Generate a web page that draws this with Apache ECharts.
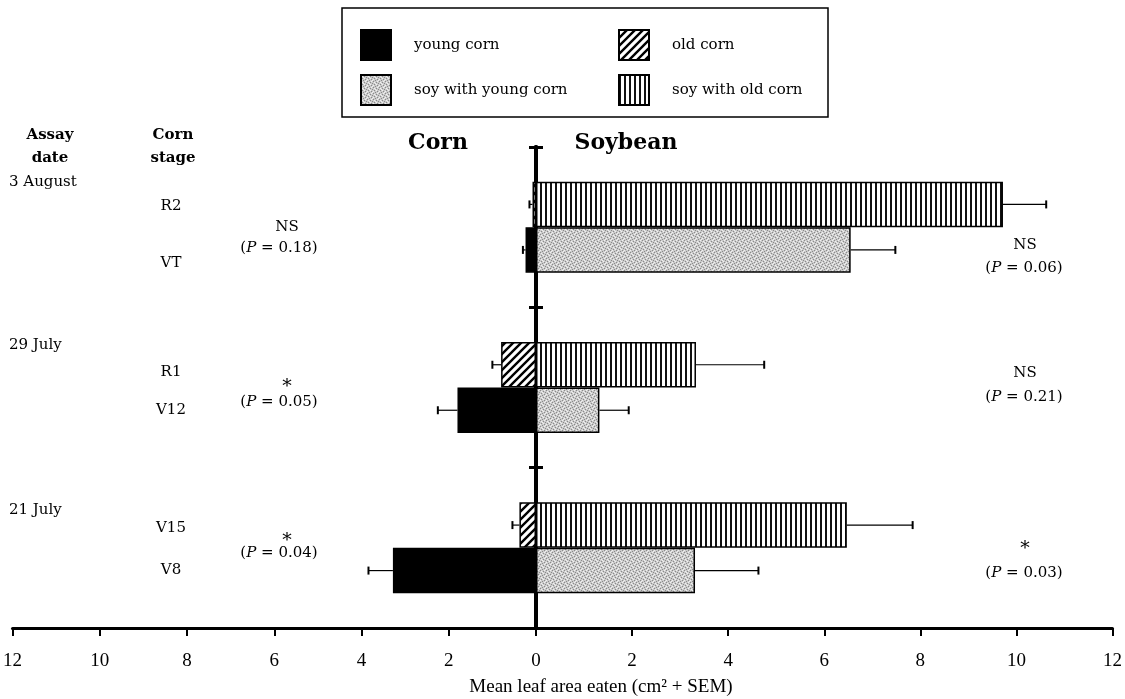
<!DOCTYPE html>
<html><head><meta charset="utf-8">
<script src="https://cdn.jsdelivr.net/npm/echarts@6/dist/echarts.min.js"></script>
<style>html,body{margin:0;padding:0;background:#fff}#c{width:1125px;height:699px}</style>
</head><body><div id="c"></div>
<script>
// ---------- data ----------
const dates = ['3 August', '29 July', '21 July'];
const oldStages = ['R2', 'R1', 'V15'];
const youngStages = ['VT', 'V12', 'V8'];
const youngCorn = [0.24, 1.80, 3.28];
const youngCornErr = [0.06, 0.45, 0.56];
const oldCorn = [0.08, 0.80, 0.38];
const oldCornErr = [0.07, 0.20, 0.16];
const soyYoung = [6.55, 1.32, 3.31];
const soyYoungErr = [0.93, 0.61, 1.32];
const soyOld = [9.72, 3.33, 6.47];
const soyOldErr = [0.90, 1.42, 1.37];
const cornStats = [['NS', '0.18'], ['*', '0.05'], ['*', '0.04']];
const soyStats = [['NS', '0.06'], ['NS', '0.21'], ['*', '0.03']];
const axisTitle = 'Mean leaf area eaten (cm² + SEM)';

// ---------- styles ----------
const SERIF = 'DejaVu Serif';
const TICKFONT = 'Liberation Serif';
const BAR = 45.5;
function pat(w, h, draw) { const c = document.createElement('canvas'); c.width = w; c.height = h; draw(c.getContext('2d'), w, h); return c; }
const hatch = pat(8, 8, g => {
  g.fillStyle = '#fff'; g.fillRect(0, 0, 8, 8);
  g.strokeStyle = '#000'; g.lineWidth = 2.4; g.beginPath();
  g.moveTo(-1, 9); g.lineTo(9, -1); g.moveTo(-1, 1); g.lineTo(1, -1); g.moveTo(7, 9); g.lineTo(9, 7); g.stroke();
});
const stripes = pat(5, 1, g => { g.fillStyle = '#fff'; g.fillRect(0, 0, 5, 1); g.fillStyle = '#111'; g.fillRect(0, 0, 2, 1); });
const stipple = pat(6, 6, g => {
  g.fillStyle = '#cbcbcb'; g.fillRect(0, 0, 6, 6);
  g.fillStyle = '#8a8a8a';
  [[0,0],[3,1],[1,3],[4,4],[5,2],[2,5]].forEach(p => g.fillRect(p[0], p[1], 1, 1));
  g.fillStyle = '#f0f0f0';
  [[1,1],[4,0],[0,4],[3,3],[5,5],[2,2]].forEach(p => g.fillRect(p[0], p[1], 1, 1));
});
const fills = {
  'young corn': '#000',
  'old corn': { image: hatch, repeat: 'repeat' },
  'soy with young corn': { image: stipple, repeat: 'repeat' },
  'soy with old corn': { image: stripes, repeat: 'repeat' }
};

function barSeries(name, vals, gi) {
  return { name, type: 'bar', xAxisIndex: gi, yAxisIndex: gi, data: vals, barWidth: BAR, barGap: '0%',
    itemStyle: { color: fills[name], borderColor: '#000', borderWidth: 1.5 }, silent: true };
}
function errSeries(vals, errs, sign, gi) {
  return { type: 'custom', xAxisIndex: gi, yAxisIndex: gi, silent: true, z: 5,
    data: vals.map((v, i) => [i, v, v + errs[i]]),
    encode: { x: [1, 2], y: 0 },
    renderItem: (params, api) => {
      const cat = api.value(0);
      const p1 = api.coord([api.value(1), cat]);
      const p2 = api.coord([api.value(2), cat]);
      const y = p1[1] + sign * BAR / 2;
      return { type: 'group', children: [
        { type: 'line', shape: { x1: p1[0], y1: y, x2: p2[0], y2: y }, style: { stroke: '#000', lineWidth: 1.2 } },
        { type: 'line', shape: { x1: p2[0], y1: y - 4, x2: p2[0], y2: y + 4 }, style: { stroke: '#000', lineWidth: 2 } }
      ] };
    } };
}

function xAx(gi, inverse) {
  return { gridIndex: gi, type: 'value', inverse, min: 0, max: 12, interval: 2,
    axisLine: { show: true, onZero: false, lineStyle: { color: '#000', width: 3 } },
    axisTick: { show: true, length: 8, lineStyle: { color: '#000', width: 2 } },
    axisLabel: { showMinLabel: !inverse, margin: 24, fontFamily: TICKFONT, fontSize: 19, color: '#000' },
    splitLine: { show: false } };
}
function yAx(gi, pos) {
  return { gridIndex: gi, type: 'category', data: dates, inverse: true, position: pos,
    axisLine: { show: true, onZero: false, lineStyle: { color: '#000', width: 4 } },
    axisTick: { show: true, length: 7, lineStyle: { color: '#000', width: 3 } },
    axisLabel: { show: false }, splitLine: { show: false } };
}

function txt(x, y, text, opts) {
  return { type: 'text', x, y, silent: true, style: Object.assign({ text, fill: '#000', fontFamily: SERIF, fontSize: 15,
    align: 'center', verticalAlign: 'middle', rich: { i: { fontStyle: 'italic', fontFamily: SERIF, fontSize: 15 } } }, opts || {}) };
}
const pText = p => '({i|P} = ' + p + ')';
const markText = (x, y, s) => s === '*' ? txt(x, y + 4, s, { fontSize: 19 }) : txt(x, y, s);

const graphics = [
  { type: 'rect', shape: { x: 342, y: 8, width: 486, height: 109 }, style: { fill: 'none', stroke: '#000', lineWidth: 1.5 }, silent: true },
  txt(438, 143, 'Corn', { fontSize: 22, fontWeight: 'bold' }),
  txt(626, 143, 'Soybean', { fontSize: 22, fontWeight: 'bold' }),
  txt(50, 135, 'Assay', { fontWeight: 'bold' }), txt(50, 158, 'date', { fontWeight: 'bold' }),
  txt(173, 135, 'Corn', { fontWeight: 'bold' }), txt(173, 158, 'stage', { fontWeight: 'bold' }),
  txt(601, 687, axisTitle, { fontFamily: TICKFONT, fontSize: 19 })
];
const dateY = [182, 345, 510], oldY = [206, 372, 528], youngY = [263, 410, 570];
const cStarY = [227, 383, 537], cPY = [248, 402, 553];
const sStarY = [245, 373, 545], sPY = [268, 397, 573];
dates.forEach((d, i) => {
  graphics.push(txt(9, dateY[i], d, { align: 'left' }));
  graphics.push(txt(171, oldY[i], oldStages[i]));
  graphics.push(txt(171, youngY[i], youngStages[i]));
  graphics.push(markText(287, cStarY[i], cornStats[i][0]));
  graphics.push(txt(279, cPY[i], pText(cornStats[i][1])));
  graphics.push(markText(1025, sStarY[i], soyStats[i][0]));
  graphics.push(txt(1024, sPY[i], pText(soyStats[i][1])));
});

const legendCommon = { orient: 'vertical', top: 24, itemWidth: 30, itemHeight: 30, itemGap: 13, icon: 'rect', selectedMode: false,
  textStyle: { fontFamily: SERIF, fontSize: 15, color: '#000', padding: [0, 0, 0, 18] } };

const option = {
  backgroundColor: '#fff',
  animation: false,
  grid: [
    { left: 11, right: 589, top: 147, bottom: 71 },
    { left: 536, right: 8, top: 147, bottom: 71 }
  ],
  xAxis: [xAx(0, true), xAx(1, false)],
  yAxis: [yAx(0, 'right'), yAx(1, 'left')],
  legend: [
    Object.assign({ left: 355, data: ['young corn', 'soy with young corn'] }, legendCommon),
    Object.assign({ left: 613, data: ['old corn', 'soy with old corn'] }, legendCommon)
  ],
  series: [
    barSeries('old corn', oldCorn, 0),
    barSeries('young corn', youngCorn, 0),
    barSeries('soy with old corn', soyOld, 1),
    barSeries('soy with young corn', soyYoung, 1),
    errSeries(oldCorn, oldCornErr, -1, 0),
    errSeries(youngCorn, youngCornErr, 1, 0),
    errSeries(soyOld, soyOldErr, -1, 1),
    errSeries(soyYoung, soyYoungErr, 1, 1)
  ],
  graphic: graphics
};
const chart = echarts.init(document.getElementById('c'), null, { renderer: 'canvas' });
chart.setOption(option);
</script>
</body></html>
